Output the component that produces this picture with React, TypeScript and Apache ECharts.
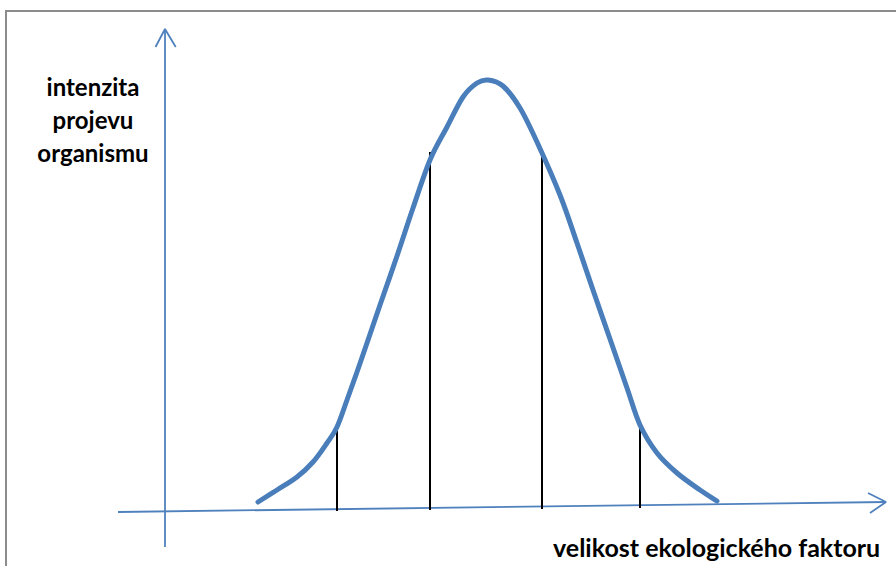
import React, { useEffect, useRef } from "react";
import * as echarts from "echarts";

// Bell curve: ecological factor magnitude (x) vs. intensity of organism response (y)
const curveX = [9.3, 11.2, 13.2, 14.8, 16.2, 17.2, 18.2, 19.2, 20.2, 21.5, 23.2, 24.8, 26.5, 28.2, 29.8, 31.2, 32.3, 33.8, 35.5, 37.2, 39.5, 41.2, 42.8, 44.5, 46.2, 47.5, 49.2, 51.2, 53.5, 55.2];
const curveY = [1.0, 2.2, 3.5, 5.0, 6.9, 8.5, 11.2, 14.0, 16.9, 20.7, 25.6, 30.4, 35.2, 38.5, 41.5, 42.9, 43.2, 42.6, 40.4, 37.0, 31.7, 26.9, 22.2, 17.3, 12.4, 8.7, 5.9, 3.9, 2.2, 1.1];

// Vertical boundary lines (limits of tolerance / optimum zone)
const dropX = [17.2, 26.5, 37.7, 47.5];
const dropTop = [8.5, 36.0, 35.9, 8.5];
const dropBottom = [0.1, 0.2, 0.3, 0.4];

// Axis lines (x axis slightly tilted as in the original drawing)
const xAxisLineX = [-4.7, 72.1];
const xAxisLineY = [0, 1.0];
const yAxisLineX = [0, 0];
const yAxisLineY = [-3.5, 48.3];
const xArrowX = [70.3, 72.1, 70.5];
const xArrowY = [1.9, 1.0, -0.1];
const yArrowX = [-0.95, 0, 1.07];
const yArrowY = [46.5, 48.3, 46.5];

const yLabel = "intenzita\nprojevu\norganismu";
const xLabel = "velikost ekologického faktoru";

const BLUE = "#4a7ebb";
const AXIS_BLUE = "#4f81bd";

const zip = (xs: number[], ys: number[]) => xs.map((x, i) => [x, ys[i]]);

export default function App() {
  const ref = useRef<HTMLDivElement>(null);
  useEffect(() => {
    if (!ref.current) return;
    const chart = echarts.init(ref.current, null, { renderer: "svg" });
    const lineBase = {
      type: "line" as const,
      showSymbol: false,
      symbol: "none",
      silent: true,
      z: 2,
    };
    const n = curveX.length;
    // Smooth curve through the data points (Catmull-Rom -> cubic Bezier), drawn via the axes' scales
    const renderCurve = (params: any, api: any) => {
      if (params.dataIndex !== 0) return null;
      const pts = curveX.map((x, i) => api.coord([x, curveY[i]]));
      let d = `M${pts[0][0]},${pts[0][1]}`;
      for (let i = 0; i < n - 1; i++) {
        const p0 = pts[Math.max(0, i - 1)];
        const p1 = pts[i];
        const p2 = pts[i + 1];
        const p3 = pts[Math.min(n - 1, i + 2)];
        const c1x = p1[0] + (p2[0] - p0[0]) / 6;
        const c1y = p1[1] + (p2[1] - p0[1]) / 6;
        const c2x = p2[0] - (p3[0] - p1[0]) / 6;
        const c2y = p2[1] - (p3[1] - p1[1]) / 6;
        d += ` C${c1x},${c1y} ${c2x},${c2y} ${p2[0]},${p2[1]}`;
      }
      return {
        type: "path",
        shape: { pathData: d },
        style: { fill: "none", stroke: BLUE, lineWidth: 5, lineCap: "round", lineJoin: "round" },
        z2: 10,
      };
    };
    const series: any[] = [
      { ...lineBase, data: zip(xAxisLineX, xAxisLineY), lineStyle: { color: AXIS_BLUE, width: 1.8 } },
      { ...lineBase, data: zip(yAxisLineX, yAxisLineY), lineStyle: { color: AXIS_BLUE, width: 1.8 } },
      { ...lineBase, data: zip(xArrowX, xArrowY), lineStyle: { color: AXIS_BLUE, width: 1.8 } },
      { ...lineBase, data: zip(yArrowX, yArrowY), lineStyle: { color: AXIS_BLUE, width: 1.8 } },
      ...dropX.map((x, i) => ({
        ...lineBase,
        data: [[x, dropBottom[i]], [x, dropTop[i]]],
        lineStyle: { color: "#000", width: 2 },
        z: 3,
      })),
      {
        type: "custom",
        silent: true,
        z: 4,
        data: zip(curveX, curveY),
        encode: { x: 0, y: 1 },
        renderItem: renderCurve,
      },
    ];
    chart.setOption({
      animation: false,
      grid: { left: 0, right: 0, top: 0, bottom: 0 },
      xAxis: { type: "value", min: -16.5, max: 73.1, show: false },
      yAxis: { type: "value", min: -5.4, max: 51.2, show: false },
      series,
      graphic: [
        {
          type: "rect",
          shape: { x: 6, y: 11, width: 900, height: 600 },
          style: { fill: "none", stroke: "#8c8c8c", lineWidth: 2 },
          silent: true,
        },
        {
          type: "text",
          x: 93,
          y: 70,
          style: {
            text: yLabel,
            fontFamily: "Lato",
            fontWeight: "bold",
            fontSize: 24,
            lineHeight: 33,
            fill: "#000",
            align: "center",
            verticalAlign: "top",
          },
        },
        {
          type: "text",
          x: 553,
          y: 547,
          style: {
            text: xLabel,
            fontFamily: "Lato",
            fontWeight: "bold",
            fontSize: 25,
            fill: "#000",
            align: "left",
            verticalAlign: "middle",
          },
        },
      ],
    });
    return () => chart.dispose();
  }, []);
  return (
    <div
      ref={ref}
      style={{ position: "absolute", left: 0, top: 0, width: 896, height: 566, background: "#fff" }}
    />
  );
}
